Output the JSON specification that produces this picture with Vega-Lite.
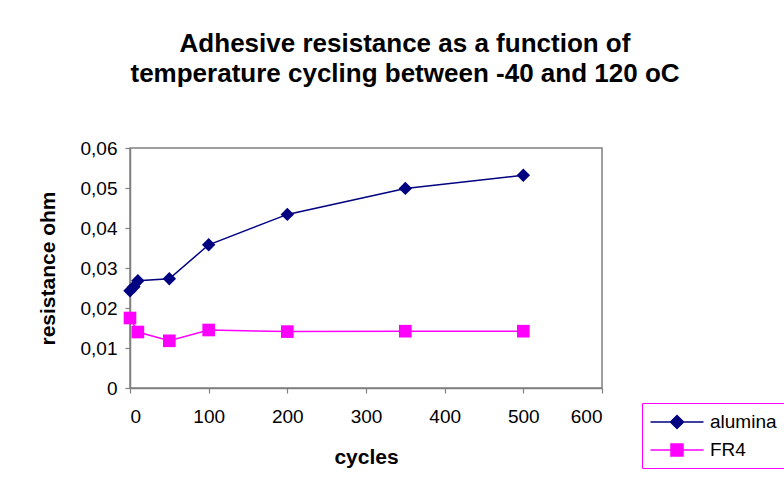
{
  "$schema": "https://vega.github.io/schema/vega-lite/v6.json",
  "autosize": "none",
  "width": 472,
  "height": 240,
  "padding": {"left": 130, "top": 148, "right": 182, "bottom": 104},
  "background": "white",
  "title": {
    "text": ["Adhesive resistance as a function of", "temperature cycling between -40 and 120 oC"],
    "fontSize": 26,
    "fontWeight": "bold",
    "lineHeight": 30,
    "dx": 39,
    "offset": 52,
    "color": "#000000"
  },
  "data": {
    "values": [
      {"series": "alumina", "cycles": 0, "resistance": 0.0243},
      {"series": "alumina", "cycles": 5, "resistance": 0.0253},
      {"series": "alumina", "cycles": 10, "resistance": 0.0268},
      {"series": "alumina", "cycles": 50, "resistance": 0.0273},
      {"series": "alumina", "cycles": 100, "resistance": 0.0358},
      {"series": "alumina", "cycles": 200, "resistance": 0.0434},
      {"series": "alumina", "cycles": 350, "resistance": 0.0499},
      {"series": "alumina", "cycles": 500, "resistance": 0.0532},
      {"series": "FR4", "cycles": 0, "resistance": 0.0175},
      {"series": "FR4", "cycles": 10, "resistance": 0.014},
      {"series": "FR4", "cycles": 50, "resistance": 0.0118},
      {"series": "FR4", "cycles": 100, "resistance": 0.0145},
      {"series": "FR4", "cycles": 200, "resistance": 0.0141},
      {"series": "FR4", "cycles": 350, "resistance": 0.0142},
      {"series": "FR4", "cycles": 500, "resistance": 0.0142}
    ]
  },
  "encoding": {
    "x": {
      "field": "cycles", "type": "quantitative",
      "scale": {"domain": [0, 600], "nice": false},
      "axis": {"values": [0, 100, 200, 300, 400, 500, 600], "title": "cycles", "grid": false, "labelPadding": 14, "titlePadding": 20}
    },
    "y": {
      "field": "resistance", "type": "quantitative",
      "scale": {"domain": [0, 0.06], "nice": false},
      "axis": {
        "values": [0, 0.01, 0.02, 0.03, 0.04, 0.05, 0.06],
        "title": "resistance ohm", "grid": false,
        "labelExpr": "datum.value === 0 ? '0' : replace(format(datum.value, '.2f'), '.', ',')",
        "labelPadding": 8, "titlePadding": 22
      }
    }
  },
  "layer": [
    {
      "transform": [{"filter": "datum.series === 'none'"}],
      "mark": {"type": "point", "filled": true, "opacity": 1, "strokeWidth": 1.5},
      "encoding": {
        "fill": {"field": "series", "type": "nominal", "scale": {"domain": ["alumina", "FR4"], "range": ["#000080", "#ff00ff"]}, "legend": {"title": null}},
        "stroke": {"field": "series", "type": "nominal", "scale": {"domain": ["alumina", "FR4"], "range": ["#000080", "#ff00ff"]}, "legend": {"title": null}},
        "shape": {"field": "series", "type": "nominal", "scale": {"domain": ["alumina", "FR4"], "range": ["M-2.65,0H2.65M0,-0.65L0.65,0L0,0.65L-0.65,0Z", "M-2.65,0H2.65M-0.6,-0.6H0.6V0.6H-0.6Z"]}, "legend": {"title": null}}
      }
    },
    {
      "mark": {"type": "line", "strokeWidth": 1.5},
      "encoding": {
        "stroke": {"field": "series", "type": "nominal", "legend": {"title": null}}
      }
    },
    {
      "transform": [{"filter": "datum.series === 'alumina'"}],
      "mark": {"type": "point", "shape": "diamond", "filled": true, "size": 180, "opacity": 1, "color": "#000080"}
    },
    {
      "transform": [{"filter": "datum.series === 'FR4'"}],
      "mark": {"type": "point", "shape": "square", "filled": true, "size": 160, "opacity": 1, "color": "#ff00ff"}
    }
  ],
  "config": {
    "font": "Liberation Sans",
    "view": {"stroke": "#808080", "strokeWidth": 1.5},
    "legend": {
      "orient": "none",
      "legendX": 512,
      "legendY": 255,
      "padding": 8,
      "strokeColor": "#ff00ff",
      "fillColor": "white",
      "symbolSize": 400,
      "symbolOffset": 16,
      "symbolStrokeWidth": 1.5,
      "symbolOpacity": 1,
      "labelOffset": 22,
      "rowPadding": 7,
      "labelFontSize": 19,
      "labelColor": "#000000"
    },
    "axis": {
      "domainColor": "#808080",
      "domainWidth": 1.5,
      "tickColor": "#808080",
      "tickWidth": 1.2,
      "tickSize": 5,
      "labelFontSize": 19,
      "labelColor": "#000000",
      "labelFont": "Liberation Sans",
      "titleFontSize": 21,
      "titleFontWeight": "bold",
      "titleColor": "#000000"
    }
  }
}
